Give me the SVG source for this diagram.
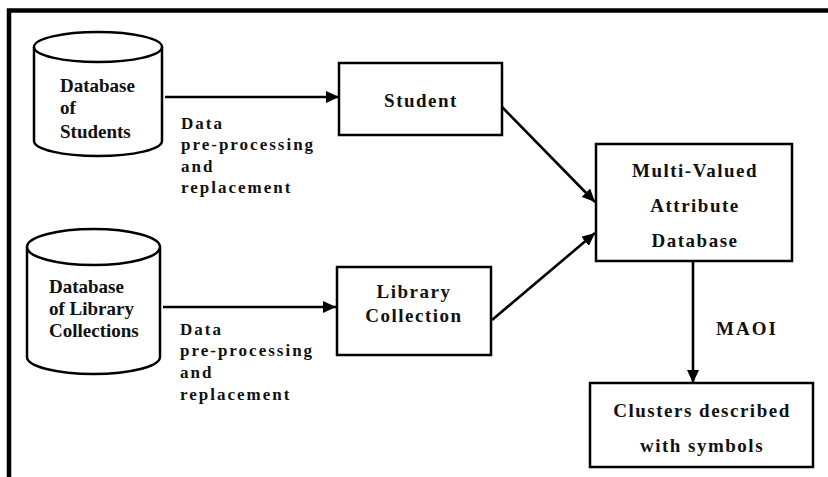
<svg xmlns="http://www.w3.org/2000/svg" width="828" height="477" viewBox="0 0 828 477">
  <style>
    .shape { fill: #fff; stroke: #000; stroke-width: 2.5; }
    .frame { fill: none; stroke: #000; stroke-width: 4.5; }
    .edge { fill: none; stroke: #000; stroke-width: 2.6; }
    .t { font-family: 'Liberation Serif', 'Times New Roman', Times, serif; font-weight: bold; fill: #111; }
    .db { font-size: 19px; }
    .box { font-size: 19px; letter-spacing: 1.5px; text-anchor: middle; }
    .lbl { font-size: 17px; letter-spacing: 2px; }
  </style>
  <defs>
    <marker id="arrow" markerUnits="userSpaceOnUse" markerWidth="14" markerHeight="12" refX="13" refY="6" orient="auto">
      <path d="M0,0 L13,6 L0,12 Z" fill="#000"/>
    </marker>
  </defs>

  <rect width="828" height="477" fill="#fff"/>
  <!-- outer frame: top and left edges only -->
  <path class="frame" d="M9,477 V10.5 H828"/>

  <g id="db-students">
    <path class="shape" d="M34,47 V141 A64,15 0 0 0 162,141 V47"/>
    <ellipse class="shape" cx="98" cy="47" rx="64" ry="15"/>
    <text class="t db" x="60" y="92" font-family="Liberation Serif">Database</text>
    <text class="t db" x="60" y="114">of</text>
    <text class="t db" x="60" y="138">Students</text>
  </g>

  <g id="db-library">
    <path class="shape" d="M27,247 V357 A66.5,17 0 0 0 160,357 V247"/>
    <ellipse class="shape" cx="93.5" cy="247" rx="66.5" ry="18"/>
    <text class="t db" x="49" y="293">Database</text>
    <text class="t db" x="49" y="315">of Library</text>
    <text class="t db" x="49" y="337">Collections</text>
  </g>

  <g id="student">
    <rect class="shape" x="339" y="63" width="163" height="72"/>
    <text class="t box" x="421" y="107">Student</text>
  </g>

  <g id="library-collection">
    <rect class="shape" x="337" y="267" width="154" height="88"/>
    <text class="t box" x="414" y="298">Library</text>
    <text class="t box" x="414" y="322">Collection</text>
  </g>

  <g id="mva-database">
    <rect class="shape" x="596" y="144" width="196" height="117"/>
    <text class="t box" x="695" y="177">Multi-Valued</text>
    <text class="t box" x="695" y="212">Attribute</text>
    <text class="t box" x="695" y="247">Database</text>
  </g>

  <g id="clusters">
    <rect class="shape" x="590" y="383" width="223" height="84"/>
    <text class="t box" x="702" y="417">Clusters described</text>
    <text class="t box" x="702" y="452">with symbols</text>
  </g>

  <g id="connectors">
    <path class="edge" d="M165,97 H339" marker-end="url(#arrow)"/>
    <path class="edge" d="M163,307 H336" marker-end="url(#arrow)"/>
    <path class="edge" d="M502,107 L595,202" marker-end="url(#arrow)"/>
    <path class="edge" d="M492,320 L595,233" marker-end="url(#arrow)"/>
    <path class="edge" d="M693,262 V383" marker-end="url(#arrow)"/>
    <text class="t lbl" x="181" y="129">Data</text>
    <text class="t lbl" x="181" y="150">pre-processing</text>
    <text class="t lbl" x="181" y="172">and</text>
    <text class="t lbl" x="181" y="193">replacement</text>
    <text class="t lbl" x="180" y="335">Data</text>
    <text class="t lbl" x="180" y="356">pre-processing</text>
    <text class="t lbl" x="180" y="378">and</text>
    <text class="t lbl" x="180" y="400">replacement</text>
    <text class="t box" x="747" y="335" style="letter-spacing:2px">MAOI</text>
  </g>
</svg>
